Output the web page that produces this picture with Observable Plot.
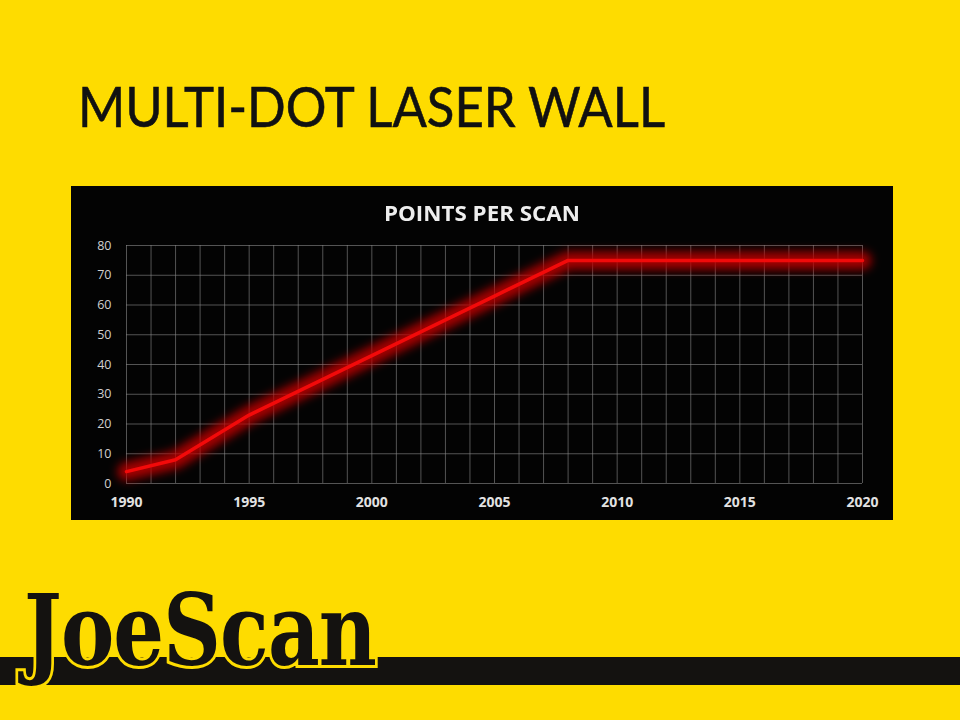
<!DOCTYPE html>
<html>
<head>
<meta charset="utf-8">
<script src="https://cdn.jsdelivr.net/npm/d3@7"></script>
<script src="https://cdn.jsdelivr.net/npm/@observablehq/plot@0.6"></script>
<style>
  html, body { margin: 0; padding: 0; }
  body { width: 960px; height: 720px; background: #FEDC00; position: relative; overflow: hidden; font-family: "Open Sans", sans-serif; }
  #title { position: absolute; left: 78px; top: 72px; font-family: Lato, "Open Sans", sans-serif; font-size: 56px; line-height: 1.2; color: #111; white-space: nowrap; transform-origin: 0 0; -webkit-text-stroke: 0.6px #111; }
  #chart { position: absolute; left: 71px; top: 186px; width: 822px; height: 334px; background: #030303; }
  #ctitle { position: absolute; left: 384px; top: 199px; color: #eee; font-weight: 700; font-size: 21px; white-space: nowrap; transform-origin: 0 0; }
  #band { position: absolute; left: 0; top: 657px; width: 960px; height: 28px; background: #141210; }
  #logo { position: absolute; left: 24px; top: 580px; font-family: "DejaVu Serif Condensed", "DejaVu Serif", serif; font-weight: 700; font-size: 100px; line-height: 1; color: #141210; -webkit-text-stroke: 6px #FEDC00; paint-order: stroke fill; white-space: nowrap; transform-origin: 0 0; letter-spacing: -1px; }
</style>
</head>
<body>
<div id="title">MULTI-DOT LASER WALL</div>
<div id="band"></div>
<div id="logo">JoeScan</div>
<div id="chart"></div>
<div id="ctitle">POINTS PER SCAN</div>
<script>
const chartTitle = "POINTS PER SCAN";
const years = [1990, 1992, 1995, 2000, 2005, 2008, 2020];
const points = [4, 8, 23, 43, 63, 75, 75];
const xTickLabels = [1990, 1995, 2000, 2005, 2010, 2015, 2020];
const yTickLabels = [0, 10, 20, 30, 40, 50, 60, 70, 80];

const data = years.map((year, i) => ({year, value: points[i]}));

const plot = Plot.plot({
  width: 822,
  height: 334,
  marginTop: 59,
  marginBottom: 37,
  marginLeft: 55,
  marginRight: 31,
  style: { background: "#030303", color: "#d8d8d8", fontFamily: "Open Sans, sans-serif", overflow: "visible" },
  x: { domain: [1990, 2020] },
  y: { domain: [0, 80] },
  marks: [
    Plot.gridX({ ticks: 30, stroke: "#8a8a8a", strokeOpacity: 0.6, strokeWidth: 1 }),
    Plot.gridY({ ticks: 8, stroke: "#8a8a8a", strokeOpacity: 0.6, strokeWidth: 1 }),
    Plot.axisX(xTickLabels, { tickSize: 0, tickPadding: 14, fontSize: 14, fontWeight: "bold", tickFormat: d => String(d), label: null, fill: "#e2e2e2", style: "letter-spacing:0.8px" }),
    Plot.axisY(yTickLabels, { tickSize: 0, tickPadding: 15, fontSize: 12.5, label: null, fill: "#d0d0d0" }),
    Plot.line(data, { x: "year", y: "value", stroke: "#c00000", strokeWidth: 18, strokeOpacity: 0.85 }),
    Plot.line(data, { x: "year", y: "value", stroke: "#f20a0a", strokeWidth: 3.5 })
  ]
});

// glow filter on the wide line
const ns = "http://www.w3.org/2000/svg";
const defs = document.createElementNS(ns, "defs");
const filter = document.createElementNS(ns, "filter");
filter.setAttribute("id", "glow");
filter.setAttribute("x", "-20%"); filter.setAttribute("y", "-20%");
filter.setAttribute("width", "140%"); filter.setAttribute("height", "140%");
const blur = document.createElementNS(ns, "feGaussianBlur");
blur.setAttribute("stdDeviation", "5");
filter.appendChild(blur);
defs.appendChild(filter);
plot.insertBefore(defs, plot.firstChild);
const lines = plot.querySelectorAll('g[aria-label="line"]');
if (lines.length) lines[0].setAttribute("filter", "url(#glow)");

document.getElementById("chart").appendChild(plot);
document.getElementById("ctitle").textContent = chartTitle;

function fitWidth(el, target) {
  const w = el.getBoundingClientRect().width;
  if (w > 0) el.style.transform = `scaleX(${target / w})`;
}
fitWidth(document.getElementById("title"), 587);
fitWidth(document.getElementById("ctitle"), 196);
fitWidth(document.getElementById("logo"), 352);
</script>
</body>
</html>
